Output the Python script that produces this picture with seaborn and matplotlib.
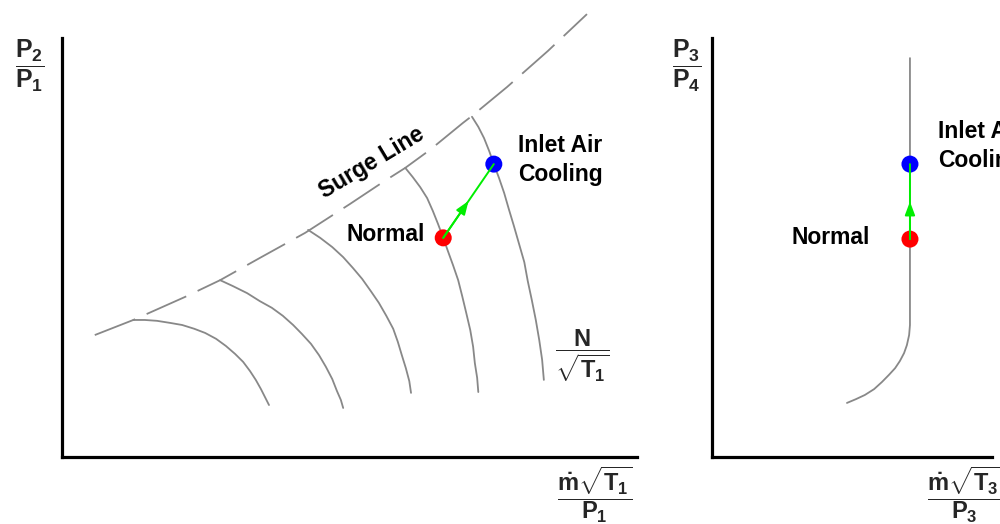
import numpy as np
import matplotlib
matplotlib.use("Agg")
import matplotlib.pyplot as plt
import seaborn as sns

# --- dane: mapa sprezarki (lewy panel) ---
surge_x = [0.57, 1.24, 2.14, 2.75, 3.44, 4.23, 5.01, 5.58, 5.97, 6.40, 6.97, 7.13, 7.74, 8.45, 9.13]
surge_y = [2.91, 3.27, 3.82, 4.22, 4.75, 5.35, 6.04, 6.56, 6.90, 7.33, 7.97, 8.14, 8.83, 9.69, 10.57]

speed1_x = [1.24, 1.44, 1.65, 1.88, 2.09, 2.30, 2.49, 2.68, 2.85, 3.01, 3.15, 3.27, 3.37, 3.46, 3.53, 3.60]
speed1_y = [3.27, 3.27, 3.25, 3.20, 3.15, 3.06, 2.96, 2.82, 2.65, 2.46, 2.27, 2.05, 1.84, 1.62, 1.43, 1.24]
speed2_x = [2.75, 2.97, 3.22, 3.44, 3.65, 3.84, 4.02, 4.17, 4.33, 4.47, 4.59, 4.70, 4.78, 4.85, 4.89]
speed2_y = [4.22, 4.08, 3.91, 3.72, 3.56, 3.37, 3.15, 2.94, 2.70, 2.43, 2.15, 1.86, 1.58, 1.36, 1.17]
speed3_x = [4.28, 4.49, 4.70, 4.89, 5.06, 5.22, 5.37, 5.51, 5.64, 5.76, 5.84, 5.91, 5.98, 6.04, 6.07]
speed3_y = [5.42, 5.23, 5.01, 4.77, 4.51, 4.25, 3.96, 3.68, 3.37, 3.06, 2.75, 2.43, 2.12, 1.81, 1.53]
speed4_x = [5.97, 6.10, 6.23, 6.35, 6.45, 6.54, 6.63, 6.71, 6.80, 6.89, 6.96, 7.03, 7.10, 7.15, 7.18, 7.22, 7.24]
speed4_y = [6.90, 6.68, 6.44, 6.18, 5.87, 5.56, 5.23, 4.92, 4.58, 4.22, 3.84, 3.44, 3.03, 2.63, 2.24, 1.89, 1.55]
speed5_x = [7.13, 7.24, 7.34, 7.43, 7.51, 7.60, 7.69, 7.77, 7.86, 7.95, 8.04, 8.10, 8.17, 8.24, 8.30, 8.35, 8.38]
speed5_y = [8.12, 7.88, 7.61, 7.30, 6.99, 6.66, 6.30, 5.92, 5.51, 5.08, 4.65, 4.20, 3.75, 3.27, 2.79, 2.32, 1.84]

comp_normal = (6.63, 5.23)
comp_cooling = (7.51, 6.99)

# --- dane: turbina (prawy panel) ---
turb_x = [7.07, 7.07, 7.07, 7.04, 6.96, 6.86, 6.71, 6.54, 6.32, 6.07, 5.79, 5.46, 5.14, 4.82]
turb_y = [9.52, 3.44, 3.15, 2.91, 2.67, 2.48, 2.29, 2.12, 1.96, 1.79, 1.62, 1.48, 1.38, 1.29]
turb_normal = (7.07, 5.20)
turb_cooling = (7.07, 6.99)

speed_lines = [(speed1_x, speed1_y), (speed2_x, speed2_y), (speed3_x, speed3_y),
               (speed4_x, speed4_y), (speed5_x, speed5_y)]

sns.set_style("white")
plt.rcParams["font.family"] = ["Liberation Sans", "DejaVu Sans"]
plt.rcParams["mathtext.fontset"] = "custom"
plt.rcParams["mathtext.rm"] = "Liberation Sans:bold"
plt.rcParams["mathtext.it"] = "Liberation Sans:bold"
plt.rcParams["mathtext.bf"] = "Liberation Sans:bold"

GRAY = "#888888"
TXT = dict(fontsize=16.5, fontweight="bold", color="black")

fig = plt.figure(figsize=(10, 5.24), dpi=100)
ax1 = fig.add_axes([0.062, 0.1279, 0.575, 0.7996])
ax2 = fig.add_axes([0.712, 0.1279, 0.28, 0.7996])

for ax in (ax1, ax2):
    ax.set_xlim(0, 10)
    ax.set_ylim(0, 10)
    ax.set_xticks([])
    ax.set_yticks([])
    ax.set_xlabel("")
    ax.set_ylabel("")
    sns.despine(ax=ax)
    for s in ("left", "bottom"):
        ax.spines[s].set_linewidth(2.3)
        ax.spines[s].set_color("black")


def draw_point_move(ax, p0, p1):
    sns.scatterplot(x=[p0[0]], y=[p0[1]], color="#ff0000", s=150, edgecolor="none", ax=ax, zorder=4)
    sns.scatterplot(x=[p1[0]], y=[p1[1]], color="#0000ff", s=150, edgecolor="none", ax=ax, zorder=4)
    ax.annotate("", xy=p1, xytext=p0,
                arrowprops=dict(arrowstyle="-", color="#00ee00", lw=1.4, shrinkA=0, shrinkB=0), zorder=5)
    mid = ((p0[0] + p1[0]) / 2, (p0[1] + p1[1]) / 2)
    ax.annotate("", xy=mid, xytext=p0,
                arrowprops=dict(arrowstyle="-|>,head_length=0.8,head_width=0.3", color="#00ee00",
                                lw=1.4, shrinkA=0, shrinkB=0), zorder=5)


# --- lewy panel ---
sns.lineplot(x=surge_x, y=surge_y, sort=False, estimator=None, color=GRAY, lw=1.3,
             ax=ax1, clip_on=False)
ax1.lines[-1].set_dashes([24, 7])
for sx, sy in speed_lines:
    sns.lineplot(x=sx, y=sy, sort=False, estimator=None, color=GRAY, lw=1.3, ax=ax1, clip_on=False)

draw_point_move(ax1, comp_normal, comp_cooling)

ax1.text(6.31, 5.30, "Normal", ha="right", va="center", **TXT)
ax1.text(5.39, 7.02, "Surge Line", ha="center", va="center", rotation=31, **TXT)
ax1.text(7.93, 7.09, "Inlet Air\nCooling", ha="left", va="center", linespacing=1.3, **TXT)
ax1.text(9.04, 2.42, r"$\dfrac{N}{\sqrt{T_1}}$", ha="center", va="center", fontsize=17)

# --- prawy panel ---
sns.lineplot(x=turb_x, y=turb_y, sort=False, estimator=None, color=GRAY, lw=1.3, ax=ax2, clip_on=False)
draw_point_move(ax2, turb_normal, turb_cooling)
ax2.text(5.64, 5.25, "Normal", ha="right", va="center", **TXT)
ax2.text(8.07, 7.42, "Inlet Air\nCooling", ha="left", va="center", linespacing=1.3, **TXT)

# --- opisy osi ---
fig.text(0.030, 0.874, r"$\dfrac{P_2}{P_1}$", ha="center", va="center", fontsize=18)
fig.text(0.687, 0.874, r"$\dfrac{P_3}{P_4}$", ha="center", va="center", fontsize=18)
fig.text(0.595, 0.056, r"$\dfrac{\dot{m}\sqrt{T_1}}{P_1}$", ha="center", va="center", fontsize=17)
fig.text(0.965, 0.056, r"$\dfrac{\dot{m}\sqrt{T_3}}{P_3}$", ha="center", va="center", fontsize=17)

fig.savefig("out.png", dpi=100)
